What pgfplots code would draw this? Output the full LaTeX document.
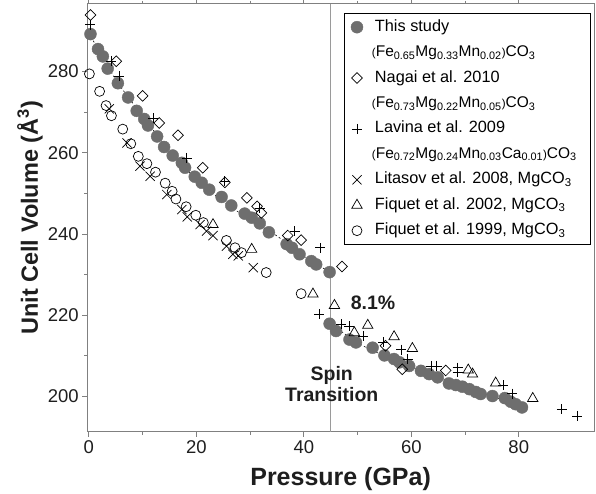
\documentclass[border=0pt]{standalone}
\usepackage{fontspec}
\setmainfont{Liberation Sans}
\usepackage{pgfplots}
\pgfplotsset{compat=1.18}
\definecolor{frame}{RGB}{128,128,128}
\definecolor{dotgray}{RGB}{110,110,110}
\definecolor{txt}{RGB}{30,30,30}
\newcommand\tsub[1]{\textsubscript{#1}}
\newcommand\smp[1]{{\fontsize{11.5}{13}\selectfont#1}}
\newcommand\fm[1]{{\fontsize{15.5}{17}\selectfont\hspace*{-3pt}#1}}
\begin{document}
\begin{tikzpicture}
\begin{axis}[
 name=ax,
 scale only axis, width=507pt, height=428pt,
 xmin=-0.3, xmax=94, ymin=191.3, ymax=296.6,
 axis line style={frame, line width=1pt},
 every tick/.style={frame, line width=0.8pt},
 tick align=outside,
 xtick pos=both, ytick pos=left, xticklabel pos=left,
 major tick length=5pt, minor tick length=3pt,
 xtick={0,20,40,60,80}, ytick={200,220,240,260,280},
 minor x tick num=1, minor y tick num=1,
 ticklabel style={font=\fontsize{18.5}{20}\selectfont, text=txt},
 /pgf/number format/assume math mode=true,
 xlabel={\textbf{Pressure (GPa)}},
 ylabel={\textbf{Unit Cell Volume (Å\textsuperscript{3})}},
 xlabel style={font=\fontsize{25}{28}\selectfont, text=txt, at={(axis description cs:0.5,-0.1115)}, anchor=center},
 ylabel style={font=\fontsize{23.5}{26}\selectfont, text=txt, at={(axis description cs:-0.113,0.5)}, anchor=center},
 legend cell align=left,
 legend style={at={(rel axis cs:0.992,0.979)}, anchor=north east, draw=black,
   font=\fontsize{16.3}{18}\selectfont, row sep=5.45pt,
   /tikz/every odd column/.append style={column sep=10pt},
   nodes={inner sep=2pt, text height=12pt, text depth=4pt}, inner xsep=4pt, inner ysep=4pt},
]
\addplot[frame!80, line width=0.8pt, forget plot] coordinates {(45,191.3) (45,296.6)};

% This study
\addplot[only marks, mark=*, mark size=6pt, mark options={fill=dotgray, draw=dotgray}] coordinates {
(0.3,289.2)(1.7,285.5)(2.6,283.7)(3.5,280.7)(5.4,277.1)(7.3,273.6)(8.9,270.3)(10.3,268.3)(11.0,266.7)(12.7,264.0)(14.0,261.4)(15.6,259.3)(17.3,257.5)(17.9,256.3)(19.7,254.1)(21.0,252.6)(22.4,250.9)(24.7,249.1)(26.5,247.0)(29.0,245.0)(30.3,244.0)(31.8,242.6)(33.5,240.4)(36.8,237.5)(37.8,236.6)(39.2,235.0)(41.4,233.3)(42.3,232.5)(44.8,230.6)
(44.8,217.9)(46.0,216.1)(48.5,214.0)(49.7,213.3)(52.8,212.0)(55.0,210.1)(56.8,209.2)(57.8,208.4)(59.6,207.5)(61.8,206.3)(63.3,205.5)(64.9,204.7)(67.0,203.2)(68.3,202.8)(69.5,202.4)(70.8,201.8)(72.0,201.1)(72.9,200.6)(75.1,200.1)(77.4,199.6)(78.5,198.7)(79.4,198.1)(80.6,197.3)
};
\addlegendentry{This study}
\addlegendimage{empty legend}
\addlegendentry{\fm{\smp{(}Fe\tsub{0.65}Mg\tsub{0.33}Mn\tsub{0.02}\smp{)}CO\tsub{3}}}

% Nagai 2010
\addplot[only marks, mark=square, mark size=3.8pt, mark options={rotate=45, line width=0.7pt, draw=black, fill=none}] coordinates {
(0.3,293.9)(5.1,282.5)(10.0,274.0)(13.1,267.3)(16.6,264.3)(21.2,256.3)(25.3,252.7)(29.4,248.9)(31.3,246.8)(32.1,245.2)(37.0,239.6)(39.5,238.5)(47.1,232.0)(55.2,212.5)(58.3,206.7)(66.4,206.4)
};
\addlegendentry{Nagai et al. 2010}
\addlegendimage{empty legend}
\addlegendentry{\fm{\smp{(}Fe\tsub{0.73}Mg\tsub{0.22}Mn\tsub{0.05}\smp{)}CO\tsub{3}}}

% Lavina 2009
\addplot[only marks, mark=+, mark size=5pt, mark options={line width=0.7pt, draw=black}] coordinates {
(0.3,291.5)(4.2,282.6)(5.6,278.9)(12.0,268.5)(18.2,258.7)(25.3,253.0)(31.8,246.4)(38.3,240.7)(43.1,236.6)(42.9,220.2)(47.0,217.8)(48.5,217.3)(51.0,214.9)(54.8,213.3)(58.1,211.5)(59.3,209.2)(63.7,207.5)(64.7,207.5)(68.6,207.1)(68.6,205.9)(77.1,202.8)(78.8,200.7)(88.0,196.9)(90.9,195.2)
};
\addlegendentry{Lavina et al. 2009}
\addlegendimage{empty legend}
\addlegendentry{\fm{\smp{(}Fe\tsub{0.72}Mg\tsub{0.24}Mn\tsub{0.03}Ca\tsub{0.01}\smp{)}CO\tsub{3}\hspace*{7pt}}}

% Litasov 2008
\addplot[only marks, mark=x, mark size=6.5pt, mark options={line width=0.7pt, draw=black}] coordinates {
(3.8,270.8)(7.1,262.4)(9.5,256.7)(11.4,254.2)(14.5,249.7)(17.3,246.0)(18.3,244.2)(20.7,242.3)(21.9,240.7)(23.1,239.6)(25.6,237.0)(26.8,235.0)(27.8,234.6)(30.6,231.7)
};
\addlegendentry{Litasov et al. 2008, MgCO\tsub{3}}

% Fiquet 2002
\addplot[only marks, mark=triangle, mark size=6pt, mark options={line width=0.7pt, draw=black, fill=none}] coordinates {
(23.1,242.3)(30.3,236.2)(41.7,225.2)(45.7,222.4)(49.4,215.7)(51.9,217.5)(56.8,214.7)(60.2,211.8)(70.6,206.5)(71.4,205.5)(75.7,203.3)(82.6,199.5)
};
\addlegendentry{Fiquet et al. 2002, MgCO\tsub{3}}

% Fiquet 1999
\addplot[only marks, mark=o, mark size=5pt, mark options={line width=0.7pt, draw=black, fill=none}] coordinates {
(0.1,279.4)(2.0,275.1)(3.2,271.6)(4.2,269.1)(6.3,265.8)(7.8,262.2)(9.2,259.1)(10.8,257.3)(12.4,255.2)(14.2,252.5)(15.5,250.5)(16.2,248.6)(18.1,246.7)(19.9,244.6)(21.3,242.8)(25.6,238.4)(27.2,236.6)(28.4,235.4)(33.0,230.5)(39.5,225.3)
};
\addlegendentry{Fiquet et al. 1999, MgCO\tsub{3}}

% fit lines
\addplot[black, line width=0.6pt, dash pattern=on 2pt off 2.5pt, smooth, forget plot] coordinates {
(0,289.5)(5,278)(10,269)(15,260.5)(20,253.5)(25,248)(30,243.5)(35,239.5)(40,234.5)(45,230.5)};
\addplot[black, line width=0.6pt, dash pattern=on 2pt off 2.5pt, smooth, forget plot] coordinates {
(45,218)(50,213.2)(55,210)(60,207.3)(65,204.8)(70,202.3)(75,200.1)(81,197.2)};

\node[font=\bfseries\fontsize{19.5}{22}\selectfont, text=txt, anchor=west] at (axis cs:48.1,223.0) {8.1\%};
\node[font=\bfseries\fontsize{19.5}{21}\selectfont, text=txt, align=center] at (axis cs:45.2,203.0) {Spin\\Transition};
\end{axis}
\pgfresetboundingbox
\path[use as bounding box] ([xshift=-87.3pt,yshift=-61.7pt]ax.south west) rectangle ([xshift=2pt,yshift=4pt]ax.north east);
\end{tikzpicture}
\end{document}
